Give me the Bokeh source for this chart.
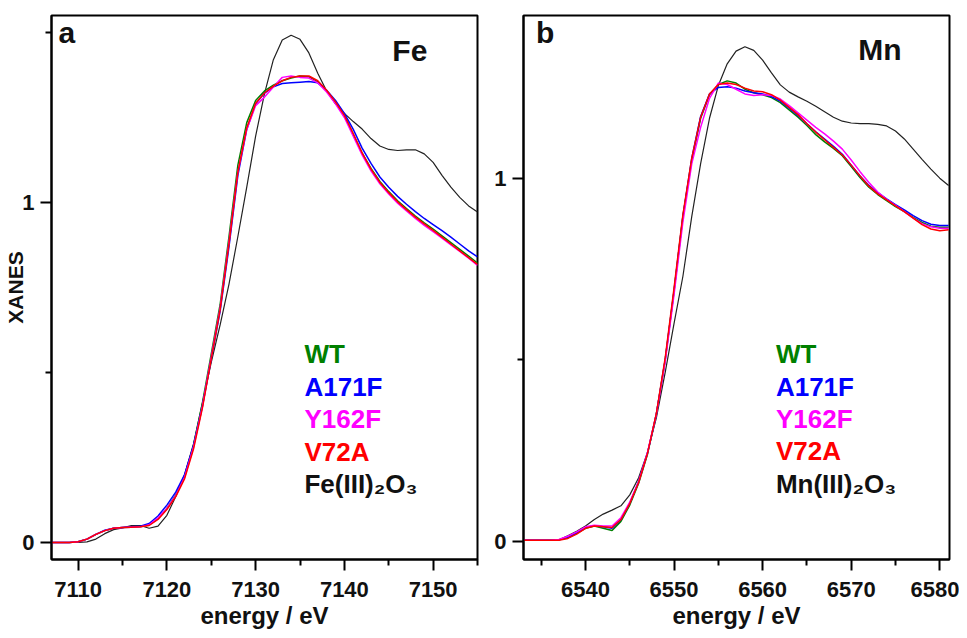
from bokeh.plotting import figure
from bokeh.layouts import row
from bokeh.models import Range1d, FixedTicker, Label
from bokeh.embed import file_html
from bokeh.resources import INLINE

# ---------------- data ----------------
energy_fe = list(range(7107, 7156))
wt_fe = [0.000, 0.000, 0.000, 0.002, 0.010, 0.024, 0.035, 0.042, 0.044, 0.045,
         0.046, 0.052, 0.070, 0.100, 0.140, 0.195, 0.285, 0.410, 0.555, 0.700,
         0.900, 1.110, 1.235, 1.300, 1.328, 1.345, 1.358, 1.366, 1.372, 1.370,
         1.355, 1.328, 1.295, 1.258, 1.200, 1.145, 1.100, 1.062, 1.032, 1.005,
         0.982, 0.960, 0.940, 0.922, 0.902, 0.882, 0.862, 0.842, 0.822]
a171f_fe = [0.000, 0.000, 0.000, 0.002, 0.010, 0.024, 0.036, 0.042, 0.044, 0.046,
            0.048, 0.056, 0.078, 0.110, 0.148, 0.200, 0.285, 0.400, 0.540, 0.680,
            0.870, 1.080, 1.215, 1.290, 1.322, 1.340, 1.350, 1.352, 1.354, 1.356,
            1.352, 1.330, 1.300, 1.262, 1.215, 1.160, 1.115, 1.075, 1.045, 1.018,
            0.995, 0.973, 0.953, 0.935, 0.917, 0.898, 0.878, 0.858, 0.840]
y162f_fe = [0.000, 0.000, 0.000, 0.002, 0.010, 0.024, 0.035, 0.042, 0.044, 0.045,
            0.046, 0.052, 0.072, 0.100, 0.138, 0.192, 0.280, 0.400, 0.545, 0.690,
            0.885, 1.090, 1.215, 1.285, 1.310, 1.340, 1.368, 1.372, 1.368, 1.366,
            1.352, 1.325, 1.290, 1.250, 1.195, 1.140, 1.093, 1.055, 1.025, 0.998,
            0.975, 0.953, 0.933, 0.914, 0.895, 0.875, 0.856, 0.836, 0.815]
v72a_fe = [0.000, 0.000, 0.000, 0.002, 0.010, 0.024, 0.035, 0.042, 0.044, 0.045,
           0.046, 0.050, 0.068, 0.097, 0.135, 0.188, 0.275, 0.395, 0.540, 0.685,
           0.880, 1.090, 1.220, 1.292, 1.322, 1.342, 1.358, 1.368, 1.372, 1.372,
           1.358, 1.330, 1.296, 1.256, 1.203, 1.146, 1.098, 1.059, 1.029, 1.002,
           0.979, 0.957, 0.937, 0.918, 0.898, 0.878, 0.858, 0.838, 0.818]
ref_fe = [0.000, 0.000, 0.000, 0.000, 0.002, 0.010, 0.026, 0.038, 0.043, 0.050,
          0.050, 0.042, 0.048, 0.080, 0.135, 0.200, 0.290, 0.410, 0.530, 0.640,
          0.760, 0.900, 1.045, 1.195, 1.320, 1.420, 1.478, 1.492, 1.480, 1.440,
          1.380, 1.328, 1.290, 1.262, 1.238, 1.216, 1.188, 1.166, 1.156, 1.153,
          1.155, 1.155, 1.143, 1.118, 1.080, 1.045, 1.015, 0.990, 0.972]

energy_mn = list(range(6533, 6582))
wt_mn = [0.003, 0.003, 0.003, 0.003, 0.004, 0.010, 0.022, 0.036, 0.042, 0.036,
         0.030, 0.055, 0.100, 0.160, 0.240, 0.350, 0.500, 0.690, 0.895, 1.050,
         1.165, 1.230, 1.258, 1.268, 1.262, 1.245, 1.235, 1.230, 1.222, 1.208,
         1.188, 1.168, 1.145, 1.120, 1.100, 1.082, 1.062, 1.032, 1.002, 0.975,
         0.955, 0.938, 0.922, 0.908, 0.892, 0.878, 0.868, 0.865, 0.865]
a171f_mn = [0.003, 0.003, 0.003, 0.003, 0.004, 0.012, 0.024, 0.038, 0.043, 0.040,
            0.036, 0.060, 0.105, 0.165, 0.243, 0.350, 0.500, 0.690, 0.895, 1.055,
            1.170, 1.232, 1.250, 1.252, 1.248, 1.240, 1.235, 1.232, 1.225, 1.212,
            1.193, 1.173, 1.150, 1.128, 1.108, 1.088, 1.066, 1.036, 1.006, 0.980,
            0.960, 0.943, 0.927, 0.913, 0.897, 0.883, 0.873, 0.870, 0.870]
y162f_mn = [0.003, 0.003, 0.003, 0.003, 0.005, 0.014, 0.026, 0.040, 0.044, 0.042,
            0.042, 0.065, 0.108, 0.165, 0.245, 0.350, 0.495, 0.680, 0.880, 1.040,
            1.140, 1.220, 1.262, 1.258, 1.245, 1.232, 1.228, 1.230, 1.228, 1.218,
            1.200, 1.180, 1.160, 1.140, 1.122, 1.102, 1.080, 1.050, 1.018, 0.988,
            0.962, 0.942, 0.925, 0.908, 0.890, 0.875, 0.866, 0.862, 0.862]
v72a_mn = [0.003, 0.003, 0.003, 0.003, 0.003, 0.008, 0.020, 0.036, 0.042, 0.040,
           0.038, 0.060, 0.104, 0.162, 0.242, 0.352, 0.505, 0.698, 0.900, 1.055,
           1.168, 1.232, 1.258, 1.262, 1.258, 1.248, 1.240, 1.238, 1.230, 1.215,
           1.195, 1.175, 1.150, 1.127, 1.106, 1.085, 1.064, 1.036, 1.006, 0.978,
           0.957, 0.940, 0.924, 0.908, 0.890, 0.872, 0.860, 0.855, 0.858]
ref_mn = [0.003, 0.003, 0.003, 0.003, 0.004, 0.015, 0.028, 0.042, 0.060, 0.075,
          0.086, 0.098, 0.128, 0.175, 0.245, 0.340, 0.465, 0.600, 0.730, 0.895,
          1.040, 1.165, 1.255, 1.315, 1.350, 1.362, 1.352, 1.325, 1.290, 1.257,
          1.237, 1.224, 1.212, 1.198, 1.183, 1.168, 1.157, 1.152, 1.150, 1.150,
          1.148, 1.144, 1.130, 1.108, 1.080, 1.052, 1.025, 1.000, 0.980]

series_names = ["WT", "A171F", "Y162F", "V72A"]
series_colors = ["#008000", "#0000ff", "#ff00ff", "#ff0000"]

x_ticks_fe = [7110, 7120, 7130, 7140, 7150]
x_minor_fe = [7115, 7125, 7135, 7145, 7155]
x_ticks_mn = [6540, 6550, 6560, 6570, 6580]
x_minor_mn = [6535, 6545, 6555, 6565, 6575]
y_ticks = [0, 1]
y_minor = [0.5, 1.5]

FONT = "Liberation Sans"
INK = "#111111"


def style(p, xt, xm):
    p.outline_line_color = "black"
    p.outline_line_width = 2
    p.xgrid.visible = False
    p.ygrid.visible = False
    p.xaxis.ticker = FixedTicker(ticks=xt, minor_ticks=xm)
    p.yaxis.ticker = FixedTicker(ticks=y_ticks, minor_ticks=y_minor)
    for ax in (p.xaxis[0], p.yaxis[0]):
        ax.axis_line_width = 2
        ax.axis_line_color = "black"
        ax.major_tick_line_width = 2
        ax.minor_tick_line_width = 2
        ax.major_tick_in = 0
        ax.major_tick_out = 11
        ax.minor_tick_in = 0
        ax.minor_tick_out = 6
        ax.major_label_text_font = FONT
        ax.major_label_text_font_size = "22px"
        ax.major_label_text_font_style = "bold"
        ax.major_label_text_color = INK
        ax.axis_label_text_font = FONT
        ax.axis_label_text_font_style = "bold"
        ax.axis_label_text_color = INK
    p.xaxis.major_label_standoff = 11
    p.yaxis.major_label_standoff = 6
    p.xaxis.axis_label = "energy / eV"
    p.xaxis.axis_label_text_font_size = "24px"
    p.xaxis.axis_label_standoff = 2


def legend_labels(p, x, ys, last):
    for name, col, yy in zip(series_names, series_colors, ys[:4]):
        p.add_layout(Label(x=x, y=yy, text=name, text_color=col, text_font=FONT,
                           text_font_size="26px", text_font_style="bold",
                           text_baseline="alphabetic"))
    p.add_layout(Label(x=x, y=ys[4], text=last, text_color=INK, text_font=FONT,
                       text_font_size="26px", text_font_style="bold",
                       text_baseline="alphabetic"))


# ---------------- panel a (Fe) ----------------
pa = figure(width=490, height=638, output_backend="svg", toolbar_location=None,
            x_range=Range1d(7107, 7155), y_range=Range1d(-0.05, 1.55),
            min_border_left=51, min_border_right=13, min_border_top=15, min_border_bottom=79)
style(pa, x_ticks_fe, x_minor_fe)
pa.yaxis.axis_label = "XANES"
pa.yaxis.axis_label_text_font_size = "21px"
pa.yaxis.axis_label_standoff = -8

pa.line(energy_fe, ref_fe, color="#222222", line_width=1.2)
for vals, col in zip([wt_fe, a171f_fe, y162f_fe, v72a_fe], series_colors):
    pa.line(energy_fe, vals, color=col, line_width=1.5)

pa.add_layout(Label(x=7107.8, y=1.452, text="a", text_font=FONT, text_font_size="30px",
                    text_font_style="bold", text_color=INK))
pa.add_layout(Label(x=7145.4, y=1.398, text="Fe", text_font=FONT, text_font_size="30px",
                    text_font_style="bold", text_color=INK))
legend_labels(pa, 7135.5, [0.555, 0.458, 0.364, 0.267, 0.173], "Fe(III)\u2082O\u2083")

# ---------------- panel b (Mn) ----------------
pb = figure(width=469, height=638, output_backend="svg", toolbar_location=None,
            x_range=Range1d(6533, 6581.1), y_range=Range1d(-0.05, 1.448),
            min_border_left=33, min_border_right=10, min_border_top=15, min_border_bottom=79)
style(pb, x_ticks_mn, x_minor_mn)

pb.line(energy_mn, ref_mn, color="#222222", line_width=1.2)
for vals, col in zip([wt_mn, a171f_mn, y162f_mn, v72a_mn], series_colors):
    pb.line(energy_mn, vals, color=col, line_width=1.5)

pb.add_layout(Label(x=6534.4, y=1.357, text="b", text_font=FONT, text_font_size="30px",
                    text_font_style="bold", text_color=INK))
pb.add_layout(Label(x=6570.8, y=1.310, text="Mn", text_font=FONT, text_font_size="30px",
                    text_font_style="bold", text_color=INK))
legend_labels(pb, 6561.5, [0.516, 0.426, 0.337, 0.248, 0.158], "Mn(III)\u2082O\u2083")

layout = row(pa, pb)
open("out.html", "w").write(file_html(layout, INLINE))
